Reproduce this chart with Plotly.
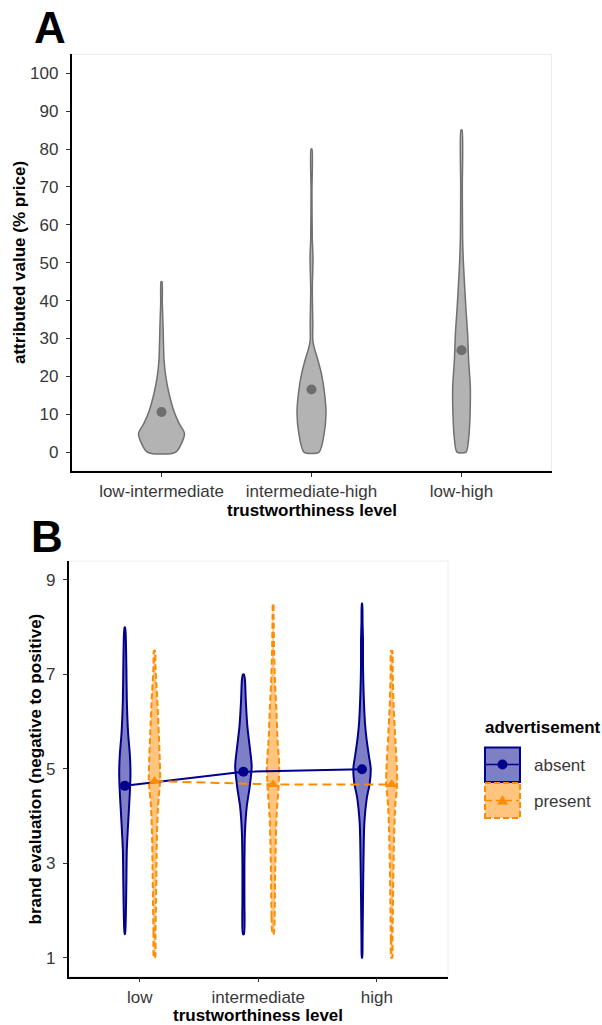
import plotly.graph_objects as go

# ---------------- Panel A data ----------------
a_levels = ["low-intermediate", "intermediate-high", "low-high"]
a_means = [10.6, 16.5, 26.9]
# violin outlines: value levels and relative density
a1_y = [0, 4.85, 7.5, 11, 15.4, 19.8, 24.3, 30.4, 34.8, 39.3, 45]
a1_d = [0.62, 1.0, 0.77, 0.53, 0.33, 0.19, 0.11, 0.08, 0.06, 0.035, 0.02]
a2_y = [0, 4.85, 10.2, 15.4, 20.7, 25.1, 27.3, 29.5, 34, 42.8, 51.6, 56, 69, 80]
a2_d = [0.33, 0.55, 0.63, 0.57, 0.43, 0.24, 0.13, 0.057, 0.057, 0.035, 0.065, 0.035, 0.02, 0.02]
a3_y = [0, 4, 10.2, 17.2, 24.3, 31.3, 38.4, 45.4, 50.7, 56.9, 70, 85]
a3_d = [0.2, 0.317, 0.374, 0.383, 0.309, 0.265, 0.187, 0.122, 0.078, 0.048, 0.035, 0.022]
a_y_ticks = [0, 10, 20, 30, 40, 50, 60, 70, 80, 90, 100]

# ---------------- Panel B data ----------------
b_levels = ["low", "intermediate", "high"]
b_groups = ["absent", "present"]
b_absent_means = [4.64, 4.94, 4.99]
b_present_means = [4.74, 4.67, 4.67]

b_abs_low_y = [1.5, 1.87, 2.58, 3.28, 3.99, 4.5, 4.9, 5.3, 5.75, 6.46, 7.17, 7.88, 8.0]
b_abs_low_d = [0.02, 0.11, 0.17, 0.22, 0.41, 0.56, 0.63, 0.56, 0.37, 0.22, 0.17, 0.09, 0.02]
b_abs_mid_y = [1.5, 2.22, 2.93, 3.64, 4.2, 4.62, 5.05, 5.47, 5.9, 6.46, 6.88, 7.0]
b_abs_mid_d = [0.06, 0.11, 0.11, 0.17, 0.37, 0.70, 0.92, 0.70, 0.44, 0.26, 0.17, 0.06]
b_abs_high_y = [1.0, 1.37, 2.29, 3.14, 3.85, 4.41, 4.69, 5.01, 5.26, 5.61, 5.97, 6.67, 7.2, 7.73, 8.1, 8.5]
b_abs_high_d = [0.02, 0.06, 0.11, 0.17, 0.26, 0.56, 0.86, 0.97, 0.78, 0.52, 0.33, 0.17, 0.11, 0.11, 0.06, 0.02]

b_pre_low_y = [1.0, 1.52, 2.22, 2.93, 3.64, 4.2, 4.76, 5.19, 5.75, 6.46, 7.17, 7.5]
b_pre_low_d = [0.06, 0.11, 0.17, 0.22, 0.28, 0.39, 0.63, 0.59, 0.48, 0.31, 0.11, 0.06]
b_pre_mid_y = [1.5, 1.87, 2.58, 3.28, 4.0, 4.62, 5.05, 5.61, 6.25, 6.81, 7.52, 8.22, 8.5]
b_pre_mid_d = [0.06, 0.17, 0.22, 0.28, 0.39, 0.61, 0.69, 0.5, 0.37, 0.22, 0.11, 0.06, 0.02]
b_pre_high_y = [1.0, 1.37, 2.08, 2.79, 3.49, 4.2, 4.69, 4.98, 5.61, 6.32, 7.03, 7.5]
b_pre_high_d = [0.06, 0.09, 0.14, 0.19, 0.26, 0.39, 0.61, 0.59, 0.41, 0.22, 0.11, 0.06]
b_y_ticks = [1, 3, 5, 7, 9]

# ---------------- styling / geometry ----------------
W, H = 602, 1025
FONT = "Liberation Sans, Arial, sans-serif"
TICK_COL = "#383838"
TICK_SIZE = 17
A_HW = 23 / 150.0     # half width (x units) for density 1, panel A
B_HW = 9 / 119.0      # half width (x units) for density 1, panel B
DODGE = 0.125
BLUE = "#00008B"
ORANGE = "#FF8C00"
BLUE_FILL = "rgba(0,0,139,0.5)"
ORANGE_FILL = "rgba(255,140,0,0.5)"


def px(x):
    return x / W


def py(y):
    return 1 - y / H


def violin_xy(center, ys, ds, scale):
    left = [center - d * scale for d in ds]
    right = [center + d * scale for d in ds]
    xs = left + right[::-1] + [left[0]]
    yy = list(ys) + list(ys)[::-1] + [ys[0]]
    return xs, yy


fig = go.Figure()

# Panel A violins
for i, (ys, ds) in enumerate([(a1_y, a1_d), (a2_y, a2_d), (a3_y, a3_d)]):
    xs, yy = violin_xy(i, ys, ds, A_HW)
    fig.add_trace(go.Scatter(x=xs, y=yy, mode="lines", fill="toself",
                             fillcolor="#b3b3b3",
                             line=dict(color="#707070", width=1.5, shape="spline", smoothing=0.7),
                             xaxis="x", yaxis="y", showlegend=False, hoverinfo="skip"))
fig.add_trace(go.Scatter(x=[0, 1, 2], y=a_means, mode="markers",
                         marker=dict(color="#6e6e6e", size=10),
                         xaxis="x", yaxis="y", showlegend=False))

# Panel B violins
abs_sets = [(b_abs_low_y, b_abs_low_d), (b_abs_mid_y, b_abs_mid_d), (b_abs_high_y, b_abs_high_d)]
pre_sets = [(b_pre_low_y, b_pre_low_d), (b_pre_mid_y, b_pre_mid_d), (b_pre_high_y, b_pre_high_d)]
for i, (ys, ds) in enumerate(abs_sets):
    xs, yy = violin_xy(i - DODGE, ys, ds, B_HW)
    fig.add_trace(go.Scatter(x=xs, y=yy, mode="lines", fill="toself", fillcolor=BLUE_FILL,
                             line=dict(color=BLUE, width=2, shape="spline", smoothing=0.7),
                             xaxis="x2", yaxis="y2", showlegend=False, hoverinfo="skip"))
for i, (ys, ds) in enumerate(pre_sets):
    xs, yy = violin_xy(i + DODGE, ys, ds, B_HW)
    fig.add_trace(go.Scatter(x=xs, y=yy, mode="lines", fill="toself", fillcolor=ORANGE_FILL,
                             line=dict(color=ORANGE, width=2, dash="6px,3px", shape="spline", smoothing=0.7),
                             xaxis="x2", yaxis="y2", showlegend=False, hoverinfo="skip"))

# mean lines
fig.add_trace(go.Scatter(x=[i - DODGE for i in range(3)], y=b_absent_means, mode="lines+markers",
                         line=dict(color=BLUE, width=2),
                         marker=dict(color=BLUE, size=10, symbol="circle"),
                         xaxis="x2", yaxis="y2", name=b_groups[0], showlegend=False))
fig.add_trace(go.Scatter(x=[i + DODGE for i in range(3)], y=b_present_means, mode="lines+markers",
                         line=dict(color=ORANGE, width=2, dash="9px,5px"),
                         marker=dict(color=ORANGE, size=10, symbol="triangle-up"),
                         xaxis="x2", yaxis="y2", name=b_groups[1], showlegend=False))

axis_common = dict(showgrid=False, zeroline=False, showline=True, linecolor="black",
                   linewidth=1.5, ticks="outside", ticklen=4, tickwidth=1,
                   tickcolor="#333333", tickfont=dict(family=FONT, size=TICK_SIZE, color=TICK_COL))

shapes = []
# faint panel borders
shapes.append(dict(type="rect", xref="paper", yref="paper", x0=px(71.5), x1=px(551.5),
                   y0=py(471), y1=py(54.4), line=dict(color="#ececec", width=1), layer="below"))
shapes.append(dict(type="rect", xref="paper", yref="paper", x0=px(68.5), x1=px(448),
                   y0=py(976.6), y1=py(561.1), line=dict(color="#ececec", width=1), layer="below"))

# custom legend keys
shapes.append(dict(type="rect", xref="paper", yref="paper", x0=px(485), x1=px(520),
                   y0=py(782), y1=py(747.5), fillcolor=BLUE_FILL, line=dict(color=BLUE, width=2)))
shapes.append(dict(type="line", xref="paper", yref="paper", x0=px(486), x1=px(519),
                   y0=py(764.5), y1=py(764.5), line=dict(color=BLUE, width=1.5)))
shapes.append(dict(type="circle", xref="paper", yref="paper", x0=px(497.5), x1=px(507.5),
                   y0=py(769.5), y1=py(759.5), fillcolor=BLUE, line=dict(color=BLUE, width=0)))
shapes.append(dict(type="rect", xref="paper", yref="paper", x0=px(485), x1=px(520),
                   y0=py(818), y1=py(783), fillcolor=ORANGE_FILL,
                   line=dict(color=ORANGE, width=2, dash="6px,3px")))
shapes.append(dict(type="line", xref="paper", yref="paper", x0=px(486), x1=px(519),
                   y0=py(800.5), y1=py(800.5), line=dict(color=ORANGE, width=1.5, dash="6px,4px")))
tri = "M {},{} L {},{} L {},{} Z".format(px(502.5), py(795), px(497), py(804.5), px(508), py(804.5))
shapes.append(dict(type="path", xref="paper", yref="paper", path=tri, fillcolor=ORANGE,
                   line=dict(color=ORANGE, width=0)))

title_font = dict(family=FONT, size=17, color="black")
annotations = [
    dict(text="<b>A</b>", x=px(50), y=py(27), xref="paper", yref="paper", showarrow=False,
         xanchor="center", yanchor="middle", font=dict(family=FONT, size=44, color="black")),
    dict(text="<b>B</b>", x=px(47), y=py(536), xref="paper", yref="paper", showarrow=False,
         xanchor="center", yanchor="middle", font=dict(family=FONT, size=44, color="black")),
    dict(text="<b>trustworthiness level</b>", x=px(311.5), y=py(510.5), xref="paper", yref="paper",
         showarrow=False, xanchor="center", yanchor="middle", font=title_font),
    dict(text="<b>attributed value (% price)</b>", x=px(19), y=py(263), xref="paper", yref="paper",
         showarrow=False, xanchor="center", yanchor="middle", textangle=-90, font=title_font),
    dict(text="<b>trustworthiness level</b>", x=px(258), y=py(1015.5), xref="paper", yref="paper",
         showarrow=False, xanchor="center", yanchor="middle", font=title_font),
    dict(text="<b>brand evaluation (negative to positive)</b>", x=px(34.5), y=py(769), xref="paper",
         yref="paper", showarrow=False, xanchor="center", yanchor="middle", textangle=-90, font=title_font),
    dict(text="<b>advertisement</b>", x=px(483), y=py(727), xref="paper", yref="paper",
         showarrow=False, xanchor="left", yanchor="middle", font=title_font),
    dict(text=b_groups[0], x=px(532), y=py(765), xref="paper", yref="paper", showarrow=False,
         xanchor="left", yanchor="middle", font=dict(family=FONT, size=TICK_SIZE, color=TICK_COL)),
    dict(text=b_groups[1], x=px(532), y=py(801.5), xref="paper", yref="paper", showarrow=False,
         xanchor="left", yanchor="middle", font=dict(family=FONT, size=TICK_SIZE, color=TICK_COL)),
]

fig.update_layout(
    width=W, height=H,
    margin=dict(l=0, r=0, t=0, b=0),
    paper_bgcolor="white", plot_bgcolor="white",
    showlegend=False,
    xaxis=dict(domain=[px(71.5), px(551.5)], range=[-0.6, 2.6], tickmode="array",
               tickvals=[0, 1, 2], ticktext=a_levels, anchor="y", **axis_common),
    yaxis=dict(domain=[py(471), py(54.4)], range=[-5, 105], tickmode="array",
               tickvals=a_y_ticks, anchor="x", ticklabelstandoff=4, **axis_common),
    xaxis2=dict(domain=[px(68.5), px(448)], range=[-0.6, 2.6], tickmode="array",
                tickvals=[0, 1, 2], ticktext=b_levels, anchor="y2", **axis_common),
    yaxis2=dict(domain=[py(976.6), py(561.1)], range=[0.6, 9.4], tickmode="array",
                tickvals=b_y_ticks, anchor="x2", ticklabelstandoff=4, **axis_common),
    shapes=shapes,
    annotations=annotations,
)

fig.write_html("out.html", config={"displayModeBar": False},
               post_script="document.body.style.margin='0px';document.body.style.overflow='hidden';")
